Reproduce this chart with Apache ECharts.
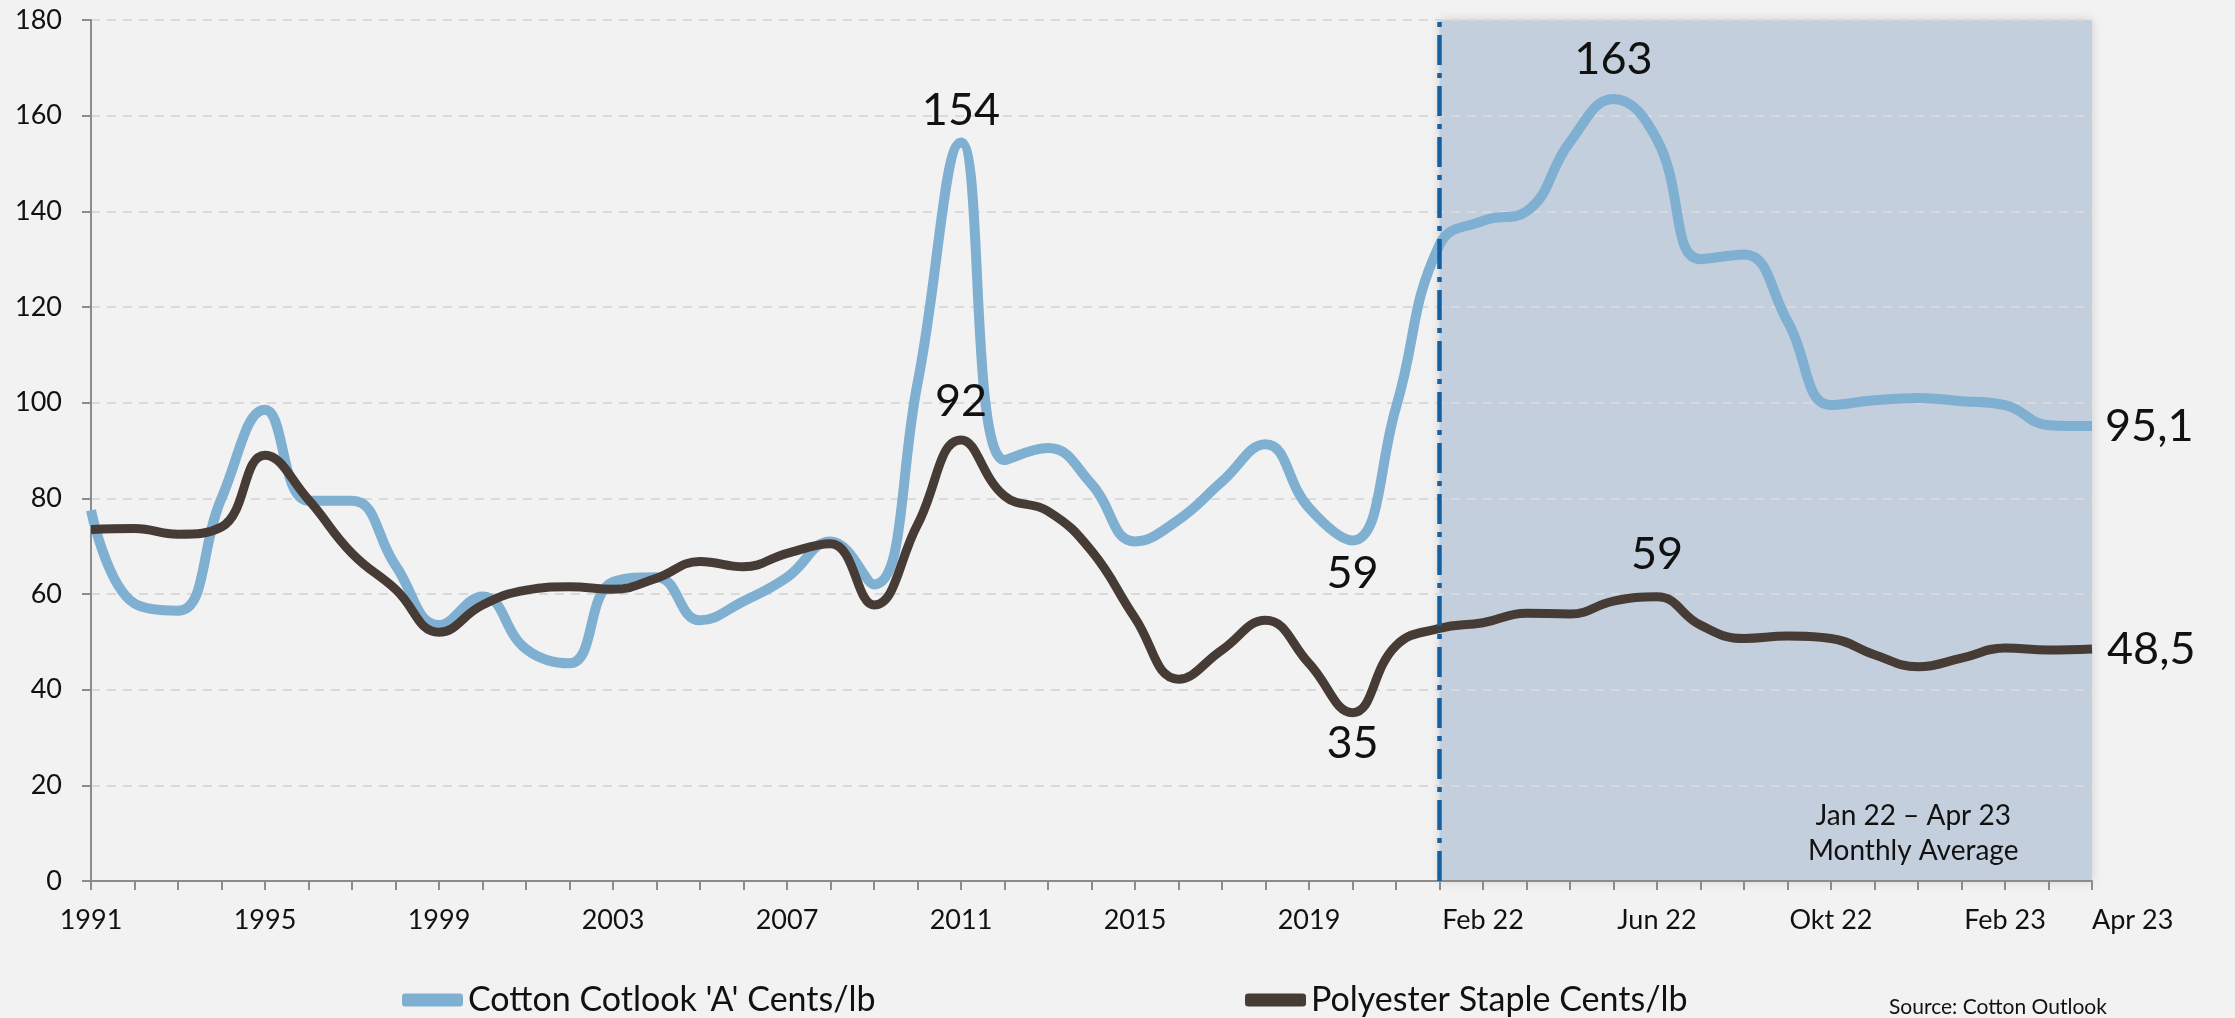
<!DOCTYPE html>
<html>
<head>
<meta charset="utf-8">
<script src="https://cdn.jsdelivr.net/npm/echarts@6/dist/echarts.min.js"></script>
<style>
  html, body { margin: 0; padding: 0; background: #f2f2f2; }
  #chart { width: 2235px; height: 1018px; }
</style>
</head>
<body>
<div id="chart"></div>
<script>
// x categories: yearly averages, then monthly averages
const years = ['1991', '1992', '1993', '1994', '1995', '1996', '1997', '1998', '1999', '2000',
  '2001', '2002', '2003', '2004', '2005', '2006', '2007', '2008', '2009', '2010',
  '2011', '2012', '2013', '2014', '2015', '2016', '2017', '2018', '2019', '2020', '2021']
const months = ['Jan 22', 'Feb 22', 'Mrz 22', 'Apr 22', 'Mai 22', 'Jun 22', 'Jul 22', 'Aug 22',
  'Sep 22', 'Okt 22', 'Nov 22', 'Dez 22', 'Jan 23', 'Feb 23', 'Mär 23', 'Apr 23']
const categories = years.concat(months)

// labels shown under the x axis
const tickLabels = ['1991', '1995', '1999', '2003', '2007', '2011', '2015', '2019',
  'Feb 22', 'Jun 22', 'Okt 22', 'Feb 23', 'Apr 23']

const cotton = [77.5, 58, 56.5, 80, 98.5, 79.5, 79.5, 66, 53.5, 59.5,
  48.5, 45.5, 62.5, 63.5, 54.5, 58.5, 63.5, 71, 62, 104,
  154.4, 88, 90.5, 83, 71, 75.5, 83.5, 91.3, 78, 71.2,
  99, 133, 138, 140, 154.5, 163.5, 155, 130, 131, 117,
  99.5, 100.5, 101, 100.3, 99.5, 95.3, 95.1]

const polyester = [73.5, 73.7, 72.5, 74, 89, 79.7, 68.5, 61, 52, 57.7,
  60.8, 61.5, 61, 63.3, 66.8, 65.7, 68.5, 70.5, 57.7, 74.5,
  92.2, 80.5, 77.3, 69, 55, 42.2, 48.3, 54.5, 45.5, 35.2,
  49.2, 52.8, 54, 56, 55.8, 58.5, 59.4, 53.5, 50.7, 51.2,
  50.7, 47.3, 44.8, 46.6, 48.7, 48.3, 48.5]

// callouts: category index + text
const cottonNotes = [[20, '154'], [29, '59'], [35, '163'], [46, '95,1']]
const polyesterNotes = [[20, '92'], [29, '35'], [36, '59'], [46, '48,5']]

const yTicks = [0, 20, 40, 60, 80, 100, 120, 140, 160, 180]

const calibri = 'Lato, "Open Sans", sans-serif'

// where each callout sits relative to its point
const placeCotton = [['top', 9], ['bottom', 11], ['top', 17], ['right', 13]]
const placePolyester = [['top', 16], ['bottom', 8], ['top', 20], ['right', 15]]

function notePoints (notes, values, place) {
  return notes.map(([i, text], k) => ({
    coord: [categories[i], values[i]],
    label: {
      show: true,
      formatter: text,
      position: place[k][0],
      distance: place[k][1],
      fontFamily: calibri,
      fontSize: 45,
      lineHeight: 45,
      color: '#111'
    }
  }))
}

const legendText = { fontFamily: calibri, fontSize: 34, color: '#111', lineHeight: 36 }

const option = {
  backgroundColor: '#f2f2f2',
  animation: false,
  grid: { left: 91, right: 143, top: 20, bottom: 137 },
  legend: [
    {
      left: 397, top: 977,
      itemWidth: 61, itemHeight: 13, icon: 'roundRect',
      textStyle: legendText,
      data: ["Cotton Cotlook 'A' Cents/lb"]
    },
    {
      left: 1240, top: 977,
      itemWidth: 61, itemHeight: 13, icon: 'roundRect',
      textStyle: legendText,
      data: ['Polyester Staple Cents/lb']
    }
  ],
  graphic: [{
    type: 'text',
    left: 1889, top: 997,
    style: { text: 'Source: Cotton Outlook', font: '21px Lato', fill: '#111' }
  }],
  xAxis: {
    type: 'category',
    data: categories,
    boundaryGap: false,
    axisLine: { lineStyle: { color: '#8c8c8c', width: 2 } },
    axisTick: { interval: 0, length: 9, lineStyle: { color: '#8c8c8c', width: 2 } },
    axisLabel: {
      interval: (i, v) => tickLabels.includes(v),
      showMaxLabel: true,
      alignMaxLabel: 'left',
      fontFamily: calibri,
      fontSize: 27,
      lineHeight: 27,
      color: '#111',
      margin: 26
    }
  },
  yAxis: {
    type: 'value',
    min: yTicks[0],
    max: yTicks[yTicks.length - 1],
    interval: 20,
    axisLine: { show: true, lineStyle: { color: '#8c8c8c', width: 2 } },
    axisTick: { show: true, length: 9, lineStyle: { color: '#8c8c8c', width: 2 } },
    axisLabel: { fontFamily: calibri, fontSize: 27, color: '#111', margin: 29 },
    splitLine: { lineStyle: { color: '#d9d9d9', width: 2, type: [9, 7] } }
  },
  series: [
    {
      name: "Cotton Cotlook 'A' Cents/lb",
      type: 'line',
      data: cotton,
      smooth: 0.45,
      showSymbol: false,
      color: '#7fb0d2',
      lineStyle: { width: 10, color: '#7fb0d2' },
      markArea: {
        silent: true,
        z: -1,
        itemStyle: { color: '#c4cfdd', shadowBlur: 10, shadowColor: 'rgba(0,0,0,0.15)' },
        label: {
          show: true,
          formatter: 'Jan 22 – Apr 23\nMonthly Average',
          position: ['72.6%', '98.6%'],
          align: 'center',
          verticalAlign: 'bottom',
          fontFamily: calibri,
          fontSize: 28,
          lineHeight: 35,
          color: '#111'
        },
        data: [[{ xAxis: 'Jan 22', yAxis: 0 }, { xAxis: 'Apr 23', yAxis: 180 }]]
      },
      markLine: {
        silent: true,
        symbol: 'none',
        label: { show: false },
        lineStyle: { color: '#1560a0', width: 4.5, type: [30, 8, 5, 8] },
        data: [{ xAxis: 'Jan 22' }]
      },
      markPoint: {
        symbolSize: 0,
        data: notePoints(cottonNotes, cotton, placeCotton)
      }
    },
    {
      name: 'Polyester Staple Cents/lb',
      type: 'line',
      data: polyester,
      smooth: 0.45,
      showSymbol: false,
      color: '#473b35',
      lineStyle: { width: 9, color: '#473b35' },
      markPoint: {
        symbolSize: 0,
        data: notePoints(polyesterNotes, polyester, placePolyester)
      }
    }
  ]
}

const chart = echarts.init(document.getElementById('chart'))
chart.setOption(option)
</script>
</body>
</html>
